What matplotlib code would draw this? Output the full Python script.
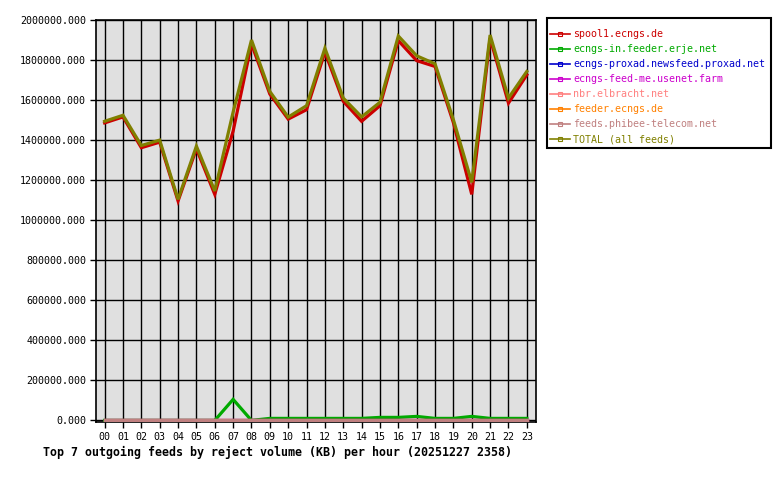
import matplotlib
matplotlib.use("Agg")
import matplotlib.pyplot as plt
from matplotlib.lines import Line2D
from matplotlib.patches import Rectangle

hours = [f"{h:02d}" for h in range(24)]

feed_names = [
    "spool1.ecngs.de",
    "ecngs-in.feeder.erje.net",
    "ecngs-proxad.newsfeed.proxad.net",
    "ecngs-feed-me.usenet.farm",
    "nbr.elbracht.net",
    "feeder.ecngs.de",
    "feeds.phibee-telecom.net",
    "TOTAL (all feeds)",
]
feed_colors = ["#cc0000", "#00aa00", "#0000cc", "#cc00cc",
               "#ff8080", "#ff8000", "#c08080", "#808000"]

spool1 = [1486000, 1516000, 1362000, 1390000, 1096000, 1357000, 1129000, 1445000,
          1880000, 1630000, 1505000, 1552000, 1840000, 1594000, 1494000, 1572000,
          1897000, 1797000, 1768000, 1487000, 1129000, 1909000, 1585000, 1726000]
ecngs_in = [0, 0, 0, 0, 0, 0, 0, 105000, 0, 10000, 10000, 10000, 10000, 10000, 10000,
            15000, 15000, 20000, 10000, 10000, 20000, 10000, 10000, 10000]
proxad = [0] * 24
feed_me = [0] * 24
elbracht = [0] * 24
feeder = [0] * 24
phibee = [0] * 24
total = [1494000, 1524000, 1373000, 1400000, 1104000, 1370000, 1146000, 1540000,
         1900000, 1643000, 1515000, 1572000, 1859000, 1610000, 1516000, 1589000,
         1920000, 1821000, 1781000, 1502000, 1189000, 1925000, 1610000, 1743000]

series = [spool1, ecngs_in, proxad, feed_me, elbracht, feeder, phibee, total]
yticks = [0, 200000, 400000, 600000, 800000, 1000000, 1200000, 1400000,
          1600000, 1800000, 2000000]

mono = "DejaVu Sans Mono"
plt.rcParams["font.family"] = [mono]
plt.rcParams["font.size"] = 7.2

W, H = 780, 480
fig = plt.figure(figsize=(W / 100, H / 100), dpi=100)
L, R, T, B = 96, 536, 20, 422
ax = fig.add_axes([L / W, 1 - B / H, (R - L) / W, (B - T) / H])
ax.set_facecolor("#e0e0e0")

x = list(range(24))
for vals, col in zip(series, feed_colors):
    ax.plot(x, vals, color=col, lw=2.3, solid_joinstyle="miter", zorder=3)

ax.set_xlim(-0.47, 23.5)
ax.set_ylim(-8000, 2000000)
ax.set_xticks(x)
ax.set_xticklabels(hours)
ax.set_yticks(yticks)
ax.set_yticklabels([f"{v:.3f}" for v in yticks])
ax.tick_params(direction="out", length=4, width=1, pad=3, colors="black",
               labelsize=7.2)
ax.grid(True, color="black", lw=1)
ax.set_axisbelow(True)
for s in ax.spines.values():
    s.set_color("black")
    s.set_linewidth(1.2)

# legend frame
fig.patches.append(Rectangle((547 / W, 1 - 148 / H), (771 - 547) / W, (148 - 18) / H,
                             transform=fig.transFigure, fill=False,
                             edgecolor="black", lw=1.5))

handles = [Line2D([0], [0], color=c, lw=1.2, marker="s", markersize=3,
                  markerfacecolor="none", markeredgecolor=c, markeredgewidth=0.8)
           for c in feed_colors]
leg = fig.legend(handles, feed_names, loc="upper left",
                 bbox_to_anchor=(550 / W, 1 - 29 / H),
                 prop={"family": mono, "size": 7.2},
                 handlelength=2.0, handletextpad=0.3, labelspacing=0.5,
                 borderpad=0, borderaxespad=0, frameon=False)
for t, c in zip(leg.get_texts(), feed_colors):
    t.set_color(c)

fig.text(43 / W, 1 - 452 / H,
         "Top 7 outgoing feeds by reject volume (KB) per hour (20251227 2358)",
         fontfamily=mono, fontsize=8.4, fontweight="bold", ha="left", va="center")

fig.savefig("out.png", dpi=100)
